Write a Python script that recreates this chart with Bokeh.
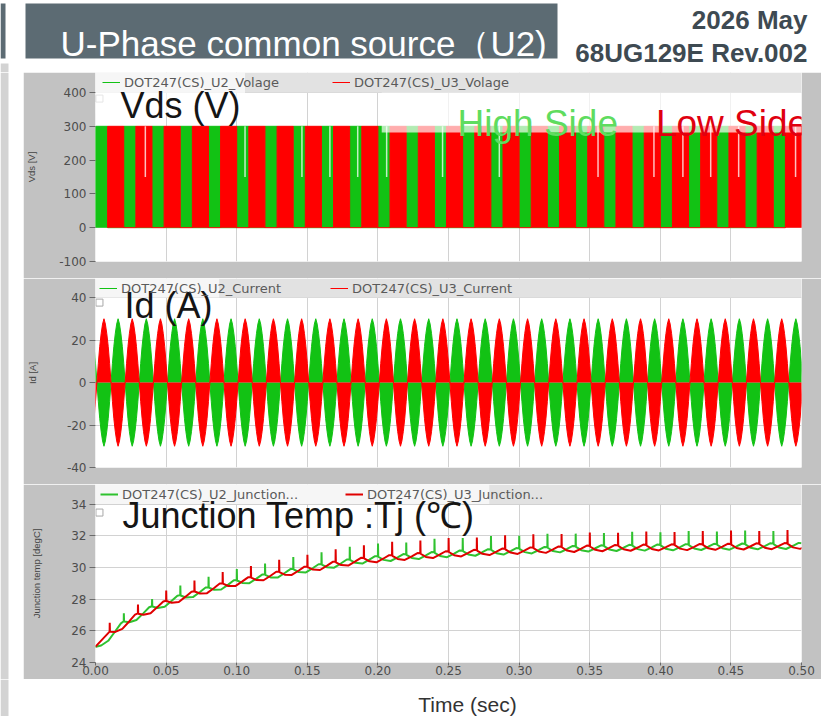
import numpy as np
from bokeh.plotting import figure
from bokeh.models import (Range1d, FixedTicker, Legend, LegendItem, BoxAnnotation,
                          Label, NumeralTickFormatter)
from bokeh.layouts import column, row
from bokeh.embed import file_html
from bokeh.resources import INLINE
from bokeh.core.properties import value

# ---------------- data ----------------
time_ticks = [0.00, 0.05, 0.10, 0.15, 0.20, 0.25, 0.30, 0.35, 0.40, 0.45, 0.50]
t_max = 0.50
cycle_s = 0.02          # one electrical cycle (25 cycles in 0.5 s)
n_cycles = 25

# Vds panel
vds_ticks = [-100, 0, 100, 200, 300, 400]
vds_names = ["DOT247(CS)_U2_Volage", "DOT247(CS)_U3_Volage"]
vds_bus = 300.0          # blocking voltage level
vds_u2_share = 0.43      # part of each cycle where the U2 trace is visible
vds_gap_t = [0.0353, 0.1059, 0.1462, 0.1660, 0.1857, 0.2062, 0.2458, 0.2860,
             0.3559, 0.3955, 0.4160, 0.4357, 0.4555, 0.4958]
vds_gap_from = 150.0

# Id panel
id_ticks = [-40, -20, 0, 20, 40]
id_names = ["DOT247(CS)_U2_Current", "DOT247(CS)_U3_Current"]
id_phase_s = 0.001
id_lobe_frac = [0.0, 0.1, 0.2, 0.3, 0.4, 0.5, 0.6, 0.7, 0.8, 0.9, 1.0]
id_lobe_amp = [0.0, 9.0, 17.0, 23.0, 27.5, 30.0, 27.5, 23.0, 17.0, 9.0, 0.0]

# Tj panel
tj_ticks = [24, 26, 28, 30, 32, 34]
tj_names = ["DOT247(CS)_U2_Junction...", "DOT247(CS)_U3_Junction..."]
tj_start = 25.0
# mean level at t = 0, 0.02, ... 0.50 (U2) and t = 0.01, 0.03, ... 0.51 (U3)
tj_u2_mean = [24.85, 26.45, 27.40, 28.10, 28.60, 29.05, 29.40, 29.75, 30.05, 30.35,
              30.55, 30.67, 30.80, 30.90, 30.98, 31.05, 31.12, 31.18, 31.22, 31.25,
              31.27, 31.29, 31.31, 31.33, 31.35, 31.37]
tj_u3_mean = [25.80, 26.95, 27.75, 28.35, 28.85, 29.23, 29.58, 29.90, 30.20, 30.45,
              30.61, 30.74, 30.85, 30.94, 31.02, 31.09, 31.15, 31.20, 31.24, 31.26,
              31.28, 31.30, 31.32, 31.34, 31.36, 31.38]
tj_u2_spike = [0.00, 0.50, 0.45, 0.60, 0.65, 0.70, 0.70, 0.75, 0.75, 0.80, 0.80, 0.75,
               0.85, 0.80, 0.85, 0.80, 0.85, 0.80, 0.80, 0.85, 0.80, 0.85, 0.80, 0.85, 0.80]
tj_u3_spike = [0.55, 0.56, 0.64, 0.67, 0.70, 0.70, 0.75, 0.75, 0.80, 0.80, 0.85, 0.80,
               0.85, 0.80, 0.85, 0.85, 0.80, 0.85, 0.80, 0.85, 0.80, 0.85, 0.85, 0.80, 0.85]
tj_ripple_frac = [0.0, 0.004, 0.012, 0.20, 0.45, 0.70, 0.90]
tj_ripple_off = [0.15, 0.15, 0.12, -0.10, -0.20, 0.00, 0.18]

# ---------------- styles ----------------
PANEL = "#c2c2c2"
BAND = "#e2e2e2"
GRID = "#d2d2d2"
STRIP = "#d3d3d3"
SLATE = "#5c6b73"
GREEN = "#12c214"
RED = "#ff0000"
TJ_GREEN = "#2fc22f"
TJ_RED = "#e00000"
TICK_FONT = "DejaVu Sans"
BIG_FONT = "Liberation Sans"
PAGE_W, PAGE_H = 821, 716
STRIP_W = 23
W_PANEL = PAGE_W - STRIP_W
LEFT_B = 70
RIGHT_B = 20
HDR_H = 72
VDS_H, ID_H, TJ_H = 206, 206, 195
FTR_H = PAGE_H - HDR_H - VDS_H - ID_H - TJ_H


def make_panel(height, y0, y1, ticks, ylabel, ylabel_standoff, bottom_border, show_x):
    p = figure(width=W_PANEL, height=height, x_range=Range1d(0, t_max),
               y_range=Range1d(y0, y1), output_backend="svg", toolbar_location=None,
               min_border_left=LEFT_B, min_border_right=RIGHT_B, min_border_top=0,
               min_border_bottom=bottom_border)
    p.border_fill_color = PANEL
    p.background_fill_color = "white"
    p.outline_line_color = None
    p.yaxis.ticker = FixedTicker(ticks=ticks)
    p.ygrid.ticker = FixedTicker(ticks=ticks)
    p.yaxis.major_label_overrides = {t: ("-%d" % -t if t < 0 else "%d" % t) for t in ticks}
    p.xaxis.ticker = FixedTicker(ticks=time_ticks)
    p.xgrid.ticker = FixedTicker(ticks=time_ticks)
    p.xaxis.formatter = NumeralTickFormatter(format="0.00")
    p.grid.grid_line_color = GRID
    for ax in (p.xaxis, p.yaxis):
        ax.axis_line_color = None
        ax.major_tick_line_color = "#6a6a6a"
        ax.major_tick_in = 0
        ax.minor_tick_line_color = None
        ax.major_label_text_font = TICK_FONT
        ax.major_label_text_font_size = "12px"
        ax.major_label_text_color = "#4d4d4d"
    p.yaxis.major_tick_out = 6
    p.yaxis.major_label_standoff = 3
    p.xaxis.major_tick_out = 3
    p.xaxis.major_label_standoff = 0
    p.yaxis.axis_label = ylabel
    p.yaxis.axis_label_text_font = BIG_FONT
    p.yaxis.axis_label_text_font_style = "normal"
    p.yaxis.axis_label_text_font_size = "9.5px"
    p.yaxis.axis_label_text_color = "#444444"
    p.yaxis.axis_label_standoff = ylabel_standoff
    p.xaxis.visible = show_x
    return p


def add_band_and_legend(p, top_value, names, renderers, frame_h, glyph_x, stride):
    p.add_layout(BoxAnnotation(bottom=top_value, fill_color=BAND, fill_alpha=1.0,
                               line_color=None))
    leg = Legend(items=[LegendItem(label=value(names[0]), renderers=[renderers[0]]),
                        LegendItem(label=value(names[1]), renderers=[renderers[1]])],
                 orientation="horizontal", location=(glyph_x, frame_h - 20),
                 padding=0, margin=0, spacing=0, glyph_width=18, glyph_height=20,
                 label_standoff=4, label_width=stride - 22, label_height=20,
                 background_fill_alpha=0, border_line_color=None,
                 label_text_font=TICK_FONT, label_text_font_size="13px",
                 label_text_color="#5a5a5a")
    p.add_layout(leg)


def add_title_label(p, text, x, y, box_right, box_bottom, icon_y):
    p.add_layout(BoxAnnotation(right=box_right, bottom=box_bottom, fill_color="white",
                               fill_alpha=0.7, line_color=None))
    p.scatter(x=[0.0028], y=[icon_y], marker="square", size=7, fill_color="white",
              line_color="#a8a8a8", line_width=1)
    p.add_layout(Label(x=x, y=y, text=text, text_font=BIG_FONT, text_font_size="36px",
                       text_color="#151515", text_baseline="alphabetic"))


def blank(width, height, y_top, y_bottom):
    f = figure(width=width, height=height, x_range=Range1d(0, width),
               y_range=Range1d(y_bottom, y_top), output_backend="svg",
               toolbar_location=None, min_border=0, x_axis_location=None,
               y_axis_location=None)
    f.grid.visible = False
    f.outline_line_color = None
    f.background_fill_color = "white"
    f.border_fill_color = "white"
    return f


# ---------------- header (page pixels 0..72) ----------------
hdr = blank(PAGE_W, HDR_H, 0, HDR_H)
hdr.quad(left=0, right=5, top=3, bottom=58, fill_color=SLATE, line_color=None)
hdr.quad(left=0, right=8, top=63, bottom=HDR_H, fill_color=STRIP, line_color=None)
hdr.quad(left=25, right=557, top=3, bottom=58, fill_color=SLATE, line_color=None)
hdr.text(x=[60], y=[43], text=["U-Phase common source（U2)"], text_font=value(BIG_FONT),
         text_font_size="35px", text_color="white", text_baseline="alphabetic")
hdr.text(x=[807, 807], y=[19.5, 52], text=["2026 May", "68UG129E Rev.002"],
         text_font=value(BIG_FONT), text_font_size="26px", text_font_style="bold",
         text_color="#3e4a52", text_align="right", text_baseline="alphabetic")

# ---------------- left strip beside the panels ----------------
strip = blank(STRIP_W, VDS_H + ID_H + TJ_H, HDR_H, HDR_H + VDS_H + ID_H + TJ_H)
strip.quad(left=0, right=8, top=HDR_H, bottom=HDR_H + VDS_H + ID_H + TJ_H,
           fill_color=STRIP, line_color=None)

# ---------------- Vds ----------------
vds_frame = VDS_H - 17
vds_top = 400 + 20 * (500 / 169)
pv = make_panel(VDS_H, -100, vds_top, vds_ticks, "Vds [V]", 19, 17, False)
cyc_start = np.arange(n_cycles) * cycle_s
u2_left = cyc_start
u2_right = cyc_start + vds_u2_share * cycle_s
u3_right = cyc_start + cycle_s
pv.quad(left=u2_left, right=u2_right, bottom=0, top=vds_bus, fill_color=GREEN,
        line_color=None)
u2_x = np.repeat(np.column_stack([u2_left, u2_right]).ravel(), 2)
u2_y = np.tile([0.0, vds_bus, vds_bus, 0.0], n_cycles)
lv_g = pv.line(x=u2_x, y=u2_y, line_color=GREEN, line_width=1)
pv.quad(left=u2_right, right=u3_right, bottom=0, top=vds_bus, fill_color=RED,
        line_color=None)
u3_x = np.repeat(np.column_stack([u2_right, u3_right]).ravel(), 2)
lv_r = pv.line(x=u3_x, y=u2_y, line_color=RED, line_width=1)
pv.segment(x0=vds_gap_t, y0=[vds_gap_from] * len(vds_gap_t), x1=vds_gap_t,
           y1=[vds_bus] * len(vds_gap_t), line_color="white", line_alpha=0.75,
           line_width=1.5)
add_band_and_legend(pv, 400, vds_names, [lv_g, lv_r], vds_frame, 7, 230)
add_title_label(pv, "Vds (V)", 0.0177, 361.5, 0.1059, 338, 382)
pv.add_layout(BoxAnnotation(left=0.2027, bottom=281.6, top=400, fill_color="white",
                            fill_alpha=0.68, line_color=None))
pv.add_layout(Label(x=0.2564, y=308.3, text="High Side", text_font=BIG_FONT,
                    text_font_size="37px", text_color="#5fdc5f", text_baseline="alphabetic"))
pv.add_layout(Label(x=0.3969, y=308.3, text="Low Side", text_font=BIG_FONT,
                    text_font_size="37px", text_color="#e00010", text_baseline="alphabetic"))

# ---------------- Id ----------------
id_frame = ID_H - 17
id_top = 40 + 19 / 2.125
pi = make_panel(ID_H, -40, id_top, id_ticks, "Id [A]", 26, 17, False)
half = cycle_s / 2
id_t, id_u3 = [], []
for j in range(-1, 2 * n_cycles + 1):
    t0 = id_phase_s + j * half
    sgn = 1 if j % 2 == 0 else -1
    for f, a in zip(id_lobe_frac, id_lobe_amp):
        id_t.append(t0 + f * half)
        id_u3.append(sgn * a)
id_u2 = [-v for v in id_u3]
pi.varea(x=id_t, y1=0, y2=id_u2, fill_color=GREEN)
li_g = pi.line(x=id_t, y=id_u2, line_color=GREEN, line_width=1)
pi.varea(x=id_t, y1=0, y2=id_u3, fill_color=RED)
li_r = pi.line(x=id_t, y=id_u3, line_color=RED, line_width=1)
add_band_and_legend(pi, 40, id_names, [li_g, li_r], id_frame, 4, 231)
add_title_label(pi, "Id (A)", 0.0205, 36.24, 0.0876, 40, 37.6)

# ---------------- Tj ----------------
tj_frame = TJ_H - 17
tj_top = 34 + 19.5 / 15.85
pt = make_panel(TJ_H, 24, tj_top, tj_ticks, "Junction temp [degC]", 26, 17, True)


def tj_trace(t_first, means, spikes):
    xs, ys = [0.0], [tj_start]
    for k in range(len(means) - 1):
        a, b = means[k], means[k + 1]
        t0 = t_first + k * cycle_s
        for i, (f, o) in enumerate(zip(tj_ripple_frac, tj_ripple_off)):
            xs.append(t0 + f * cycle_s)
            ys.append(a + (b - a) * f + o + (spikes[k] if i == 1 else 0.0))
    xs.append(t_first + (len(means) - 1) * cycle_s)
    ys.append(means[-1] + tj_ripple_off[0])
    return xs, ys


g_x, g_y = tj_trace(0.0, tj_u2_mean, tj_u2_spike)
r_x, r_y = tj_trace(0.01, tj_u3_mean, tj_u3_spike)
lt_g = pt.line(x=g_x, y=g_y, line_color=TJ_GREEN, line_width=2)
lt_r = pt.line(x=r_x, y=r_y, line_color=TJ_RED, line_width=2)
add_band_and_legend(pt, 34, tj_names, [lt_g, lt_r], tj_frame, 5, 245)
add_title_label(pt, "Junction Temp :Tj (℃)", 0.0191, 33.27, 0.2789, 34, 33.46)

# ---------------- footer ----------------
ftr_top = PAGE_H - FTR_H
ftr = blank(PAGE_W, FTR_H, ftr_top, PAGE_H)
ftr.quad(left=0, right=8, top=ftr_top, bottom=PAGE_H, fill_color=STRIP, line_color=None)
ftr.text(x=[467], y=[704], text=["Time (sec)"], text_font=value(BIG_FONT),
         text_font_size="21px", text_color="#333333", text_align="center",
         text_baseline="alphabetic")

layout = column(hdr, row(strip, column(pv, pi, pt)), ftr)

open("out.html", "w").write(file_html(layout, INLINE))
